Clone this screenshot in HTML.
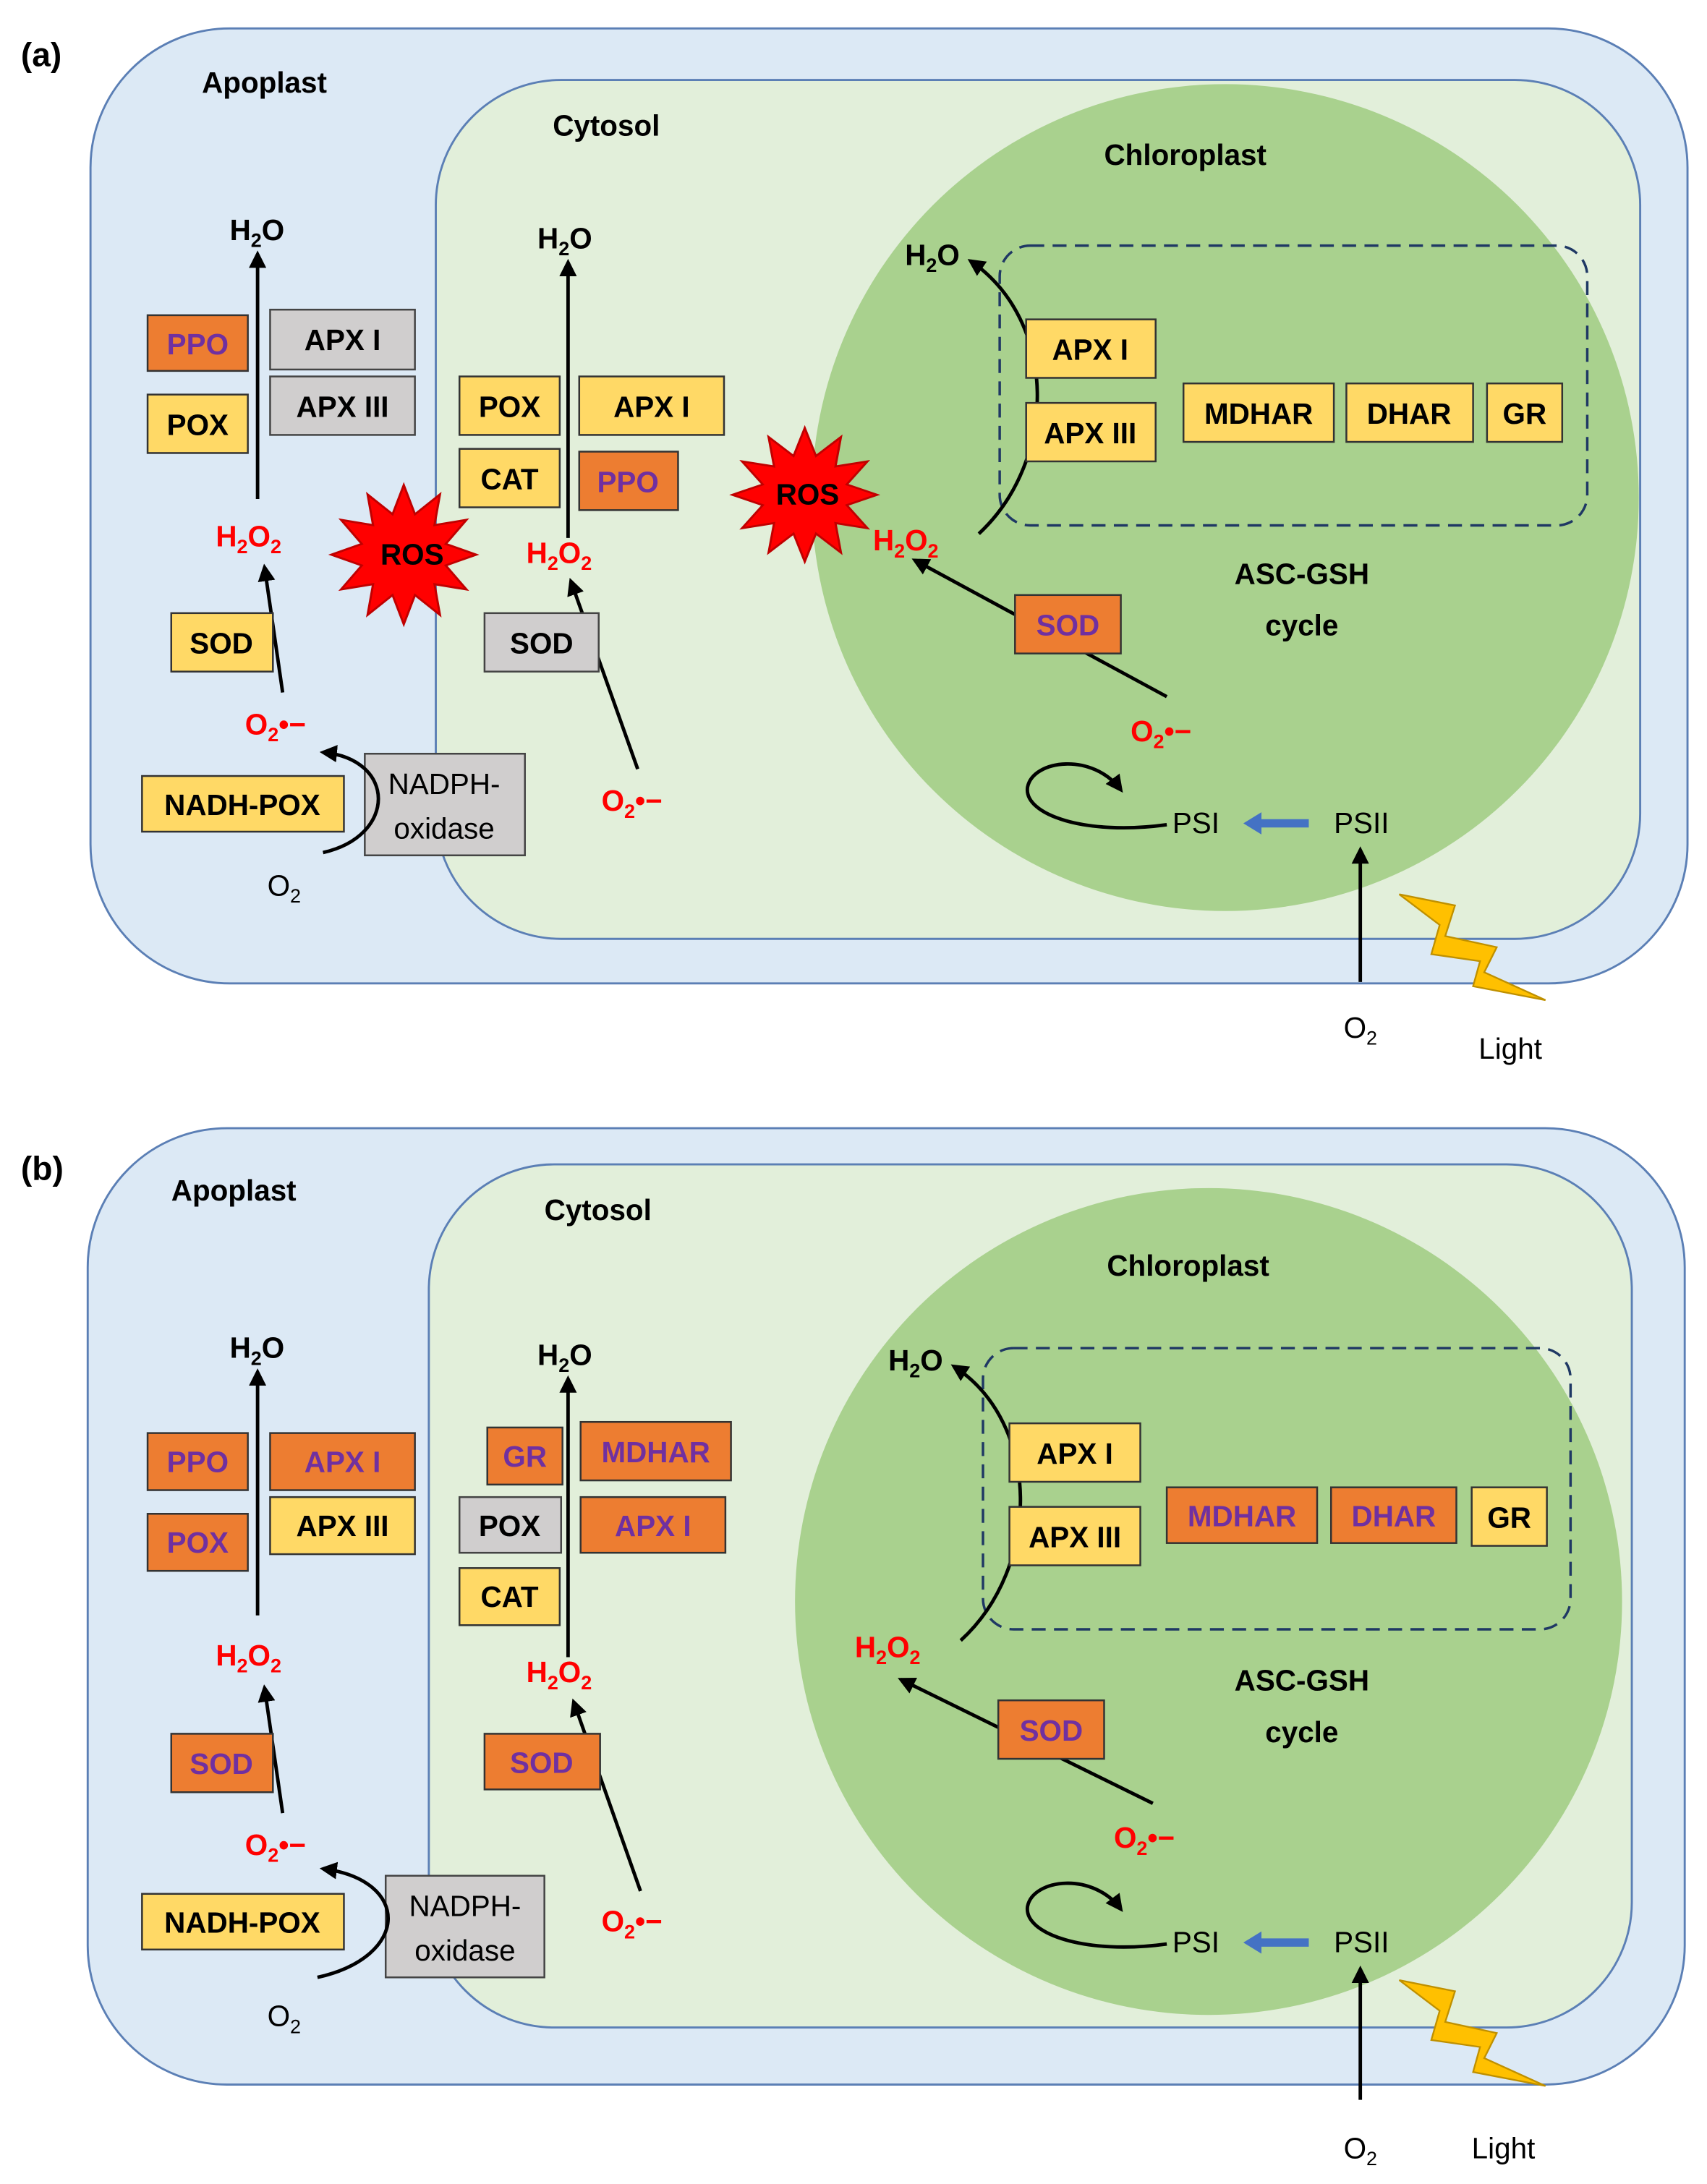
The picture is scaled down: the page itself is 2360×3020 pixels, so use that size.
<!DOCTYPE html>
<html><head><meta charset="utf-8"><style>
html,body{margin:0;padding:0;background:#fff}
svg{display:block}
text{font-family:"Liberation Sans",sans-serif}
.b{font-weight:bold;font-size:21px}
.e{font-weight:bold;font-size:21px;text-anchor:middle}
.r{fill:#ff0000;font-weight:bold;font-size:21px}
.n{font-size:21px}
.y{fill:#ffd966;stroke:#333;stroke-width:1.3}
.o{fill:#ed7d31;stroke:#333;stroke-width:1.3}
.g{fill:#d0cece;stroke:#444;stroke-width:1.3}
.pt{fill:#7030a0}
.ln{stroke:#000;stroke-width:2.5;fill:none}
</style></head><body>
<svg width="2360" height="3020" viewBox="0 0 1226 1568" xmlns="http://www.w3.org/2000/svg">
<defs>
<marker id="a" viewBox="0 0 10 10" refX="8" refY="5" markerWidth="5" markerHeight="5" orient="auto"><path d="M0,0L10,5L0,10z" fill="#000"/></marker>
<polygon id="star" points="1,0 .58,.155 .866,.5 .424,.424 .5,.866 .155,.58 0,1 -.155,.58 -.5,.866 -.424,.424 -.866,.5 -.58,.155 -1,0 -.58,-.155 -.866,-.5 -.424,-.424 -.5,-.866 -.155,-.58 0,-1 .155,-.58 .5,-.866 .424,-.424 .866,-.5 .58,-.155"/>
</defs>

<!-- ============ PANEL A ============ -->
<text x="15" y="47" font-weight="bold" font-size="24">(a)</text>
<rect x="65" y="20" width="1147" height="686" rx="100" fill="#dce9f5" stroke="#5b7fb5" stroke-width="1.5"/>
<rect x="313" y="57" width="865" height="617" rx="90" fill="#e2efda" stroke="#5b7fb5" stroke-width="1.5"/>
<circle cx="880" cy="357" r="297" fill="#a9d18e"/>
<rect x="718" y="176" width="422" height="201" rx="22" fill="none" stroke="#1f3864" stroke-width="1.8" stroke-dasharray="10,6"/>
<text x="145" y="66" class="b">Apoplast</text>
<text x="397" y="97" class="b">Cytosol</text>
<text x="793" y="118" class="b">Chloroplast</text>

<!-- apoplast -->
<text x="165" y="172" class="b">H<tspan font-size="14" dy="5">2</tspan><tspan dy="-5">O</tspan></text>
<line x1="185" y1="358" x2="185" y2="182" class="ln" marker-end="url(#a)"/>
<rect x="106" y="226" width="72" height="40" class="o"/><text x="142" y="254" class="e pt">PPO</text>
<rect x="194" y="222" width="104" height="43" class="g"/><text x="246" y="251" class="e">APX I</text>
<rect x="106" y="283" width="72" height="42" class="y"/><text x="142" y="312" class="e">POX</text>
<rect x="194" y="270" width="104" height="42" class="g"/><text x="246" y="299" class="e">APX III</text>
<text x="155" y="392" class="r">H<tspan font-size="14" dy="5">2</tspan><tspan dy="-5">O</tspan><tspan font-size="14" dy="5">2</tspan></text>
<line x1="203" y1="497" x2="190" y2="407" class="ln" marker-end="url(#a)"/>
<rect x="123" y="440" width="73" height="42" class="y"/><text x="159" y="469" class="e">SOD</text>
<text x="176" y="527" class="r">O<tspan font-size="14" dy="5">2</tspan><tspan dy="-5">•−</tspan></text>
<rect x="102" y="557" width="145" height="40" class="y"/><text x="174" y="585" class="e">NADH-POX</text>
<rect x="262" y="541" width="115" height="73" class="g"/>
<text x="319" y="570" class="n" text-anchor="middle">NADPH-</text><text x="319" y="602" class="n" text-anchor="middle">oxidase</text>
<path d="M232,612 C285,600 285,545 232,540" class="ln" marker-end="url(#a)"/>
<text x="192" y="643" class="n">O<tspan font-size="14" dy="5">2</tspan></text>
<use href="#star" transform="translate(290,398) scale(52,50)" fill="#ff0000" stroke="#c00000" stroke-width="0.03"/>
<text x="296" y="405" class="e">ROS</text>

<!-- cytosol -->
<text x="386" y="178" class="b">H<tspan font-size="14" dy="5">2</tspan><tspan dy="-5">O</tspan></text>
<line x1="408" y1="386" x2="408" y2="188" class="ln" marker-end="url(#a)"/>
<rect x="330" y="270" width="72" height="42" class="y"/><text x="366" y="299" class="e">POX</text>
<rect x="416" y="270" width="104" height="42" class="y"/><text x="468" y="299" class="e">APX I</text>
<rect x="330" y="322" width="72" height="42" class="y"/><text x="366" y="351" class="e">CAT</text>
<rect x="416" y="324" width="71" height="42" class="o"/><text x="451" y="353" class="e pt">PPO</text>
<text x="378" y="404" class="r">H<tspan font-size="14" dy="5">2</tspan><tspan dy="-5">O</tspan><tspan font-size="14" dy="5">2</tspan></text>
<line x1="458" y1="552" x2="410" y2="417" class="ln" marker-end="url(#a)"/>
<rect x="348" y="440" width="82" height="42" class="g"/><text x="389" y="469" class="e">SOD</text>
<text x="432" y="582" class="r">O<tspan font-size="14" dy="5">2</tspan><tspan dy="-5">•−</tspan></text>
<use href="#star" transform="translate(578,355) scale(52,48)" fill="#ff0000" stroke="#c00000" stroke-width="0.03"/>
<text x="580" y="362" class="e">ROS</text>

<!-- chloroplast -->
<text x="650" y="190" class="b">H<tspan font-size="14" dy="5">2</tspan><tspan dy="-5">O</tspan></text>
<path d="M703,383 C760,330 760,230 697,187" class="ln" marker-end="url(#a)"/>
<rect x="737" y="229" width="93" height="42" class="y"/><text x="783" y="258" class="e">APX I</text>
<rect x="737" y="289" width="93" height="42" class="y"/><text x="783" y="318" class="e">APX III</text>
<rect x="850" y="275" width="108" height="42" class="y"/><text x="904" y="304" class="e">MDHAR</text>
<rect x="967" y="275" width="91" height="42" class="y"/><text x="1012" y="304" class="e">DHAR</text>
<rect x="1068" y="275" width="54" height="42" class="y"/><text x="1095" y="304" class="e">GR</text>
<text x="627" y="395" class="r">H<tspan font-size="14" dy="5">2</tspan><tspan dy="-5">O</tspan><tspan font-size="14" dy="5">2</tspan></text>
<text x="935" y="419" class="e" font-size="28">ASC-GSH</text>
<text x="935" y="456" class="e" font-size="28">cycle</text>
<line x1="838" y1="500" x2="657" y2="402" class="ln" marker-end="url(#a)"/>
<rect x="729" y="427" width="76" height="42" class="o"/><text x="767" y="456" class="e pt">SOD</text>
<text x="812" y="532" class="r">O<tspan font-size="14" dy="5">2</tspan><tspan dy="-5">•−</tspan></text>
<path d="M838,592 C780,600 735,585 738,565 C742,545 785,540 805,567" class="ln" marker-end="url(#a)"/>
<text x="842" y="598" class="n">PSI</text>
<line x1="940" y1="591" x2="902" y2="591" stroke="#4472c4" stroke-width="6"/>
<polygon points="893,591 906,583 906,599" fill="#4472c4"/>
<text x="958" y="598" class="n">PSII</text>
<line x1="977" y1="705" x2="977" y2="610" class="ln" marker-end="url(#a)"/>
<text x="965" y="745" class="n">O<tspan font-size="14" dy="5">2</tspan></text>
<polygon points="1005,642 1045,650 1038,672 1075,680 1066,698 1110,718 1058,708 1063,690 1028,685 1034,664" fill="#ffc000" stroke="#bf9000" stroke-width="1.2"/>
<text x="1062" y="760" class="n">Light</text>

<!-- ============ PANEL B ============ -->
<text x="15" y="847" font-weight="bold" font-size="24">(b)</text>
<rect x="63" y="810" width="1147" height="687" rx="100" fill="#dce9f5" stroke="#5b7fb5" stroke-width="1.5"/>
<rect x="308" y="836" width="864" height="620" rx="90" fill="#e2efda" stroke="#5b7fb5" stroke-width="1.5"/>
<circle cx="868" cy="1150" r="297" fill="#a9d18e"/>
<rect x="706" y="968" width="422" height="202" rx="22" fill="none" stroke="#1f3864" stroke-width="1.8" stroke-dasharray="10,6"/>
<text x="123" y="862" class="b">Apoplast</text>
<text x="391" y="876" class="b">Cytosol</text>
<text x="795" y="916" class="b">Chloroplast</text>

<!-- apoplast -->
<text x="165" y="975" class="b">H<tspan font-size="14" dy="5">2</tspan><tspan dy="-5">O</tspan></text>
<line x1="185" y1="1160" x2="185" y2="985" class="ln" marker-end="url(#a)"/>
<rect x="106" y="1029" width="72" height="41" class="o"/><text x="142" y="1057" class="e pt">PPO</text>
<rect x="194" y="1029" width="104" height="41" class="o"/><text x="246" y="1057" class="e pt">APX I</text>
<rect x="106" y="1087" width="72" height="41" class="o"/><text x="142" y="1115" class="e pt">POX</text>
<rect x="194" y="1075" width="104" height="41" class="y"/><text x="246" y="1103" class="e">APX III</text>
<text x="155" y="1196" class="r">H<tspan font-size="14" dy="5">2</tspan><tspan dy="-5">O</tspan><tspan font-size="14" dy="5">2</tspan></text>
<line x1="203" y1="1302" x2="190" y2="1212" class="ln" marker-end="url(#a)"/>
<rect x="123" y="1245" width="73" height="42" class="o"/><text x="159" y="1274" class="e pt">SOD</text>
<text x="176" y="1332" class="r">O<tspan font-size="14" dy="5">2</tspan><tspan dy="-5">•−</tspan></text>
<rect x="102" y="1360" width="145" height="40" class="y"/><text x="174" y="1388" class="e">NADH-POX</text>
<rect x="277" y="1347" width="114" height="73" class="g"/>
<text x="334" y="1376" class="n" text-anchor="middle">NADPH-</text><text x="334" y="1408" class="n" text-anchor="middle">oxidase</text>
<path d="M228,1420 C295,1405 295,1350 232,1342" class="ln" marker-end="url(#a)"/>
<text x="192" y="1455" class="n">O<tspan font-size="14" dy="5">2</tspan></text>

<!-- cytosol -->
<text x="386" y="980" class="b">H<tspan font-size="14" dy="5">2</tspan><tspan dy="-5">O</tspan></text>
<line x1="408" y1="1190" x2="408" y2="990" class="ln" marker-end="url(#a)"/>
<rect x="350" y="1025" width="54" height="41" class="o"/><text x="377" y="1053" class="e pt">GR</text>
<rect x="417" y="1021" width="108" height="42" class="o"/><text x="471" y="1050" class="e pt">MDHAR</text>
<rect x="330" y="1075" width="73" height="40" class="g"/><text x="366" y="1103" class="e">POX</text>
<rect x="417" y="1075" width="104" height="40" class="o"/><text x="469" y="1103" class="e pt">APX I</text>
<rect x="330" y="1126" width="72" height="41" class="y"/><text x="366" y="1154" class="e">CAT</text>
<text x="378" y="1208" class="r">H<tspan font-size="14" dy="5">2</tspan><tspan dy="-5">O</tspan><tspan font-size="14" dy="5">2</tspan></text>
<line x1="460" y1="1358" x2="412" y2="1222" class="ln" marker-end="url(#a)"/>
<rect x="348" y="1245" width="83" height="40" class="o"/><text x="389" y="1273" class="e pt">SOD</text>
<text x="432" y="1387" class="r">O<tspan font-size="14" dy="5">2</tspan><tspan dy="-5">•−</tspan></text>

<!-- chloroplast -->
<text x="638" y="984" class="b">H<tspan font-size="14" dy="5">2</tspan><tspan dy="-5">O</tspan></text>
<path d="M690,1178 C748,1125 748,1022 685,981" class="ln" marker-end="url(#a)"/>
<rect x="725" y="1022" width="94" height="42" class="y"/><text x="772" y="1051" class="e">APX I</text>
<rect x="725" y="1082" width="94" height="42" class="y"/><text x="772" y="1111" class="e">APX III</text>
<rect x="838" y="1068" width="108" height="40" class="o"/><text x="892" y="1096" class="e pt">MDHAR</text>
<rect x="956" y="1068" width="90" height="40" class="o"/><text x="1001" y="1096" class="e pt">DHAR</text>
<rect x="1057" y="1068" width="54" height="42" class="y"/><text x="1084" y="1097" class="e">GR</text>
<text x="614" y="1190" class="r">H<tspan font-size="14" dy="5">2</tspan><tspan dy="-5">O</tspan><tspan font-size="14" dy="5">2</tspan></text>
<text x="935" y="1214" class="e" font-size="28">ASC-GSH</text>
<text x="935" y="1251" class="e" font-size="28">cycle</text>
<line x1="828" y1="1295" x2="647" y2="1206" class="ln" marker-end="url(#a)"/>
<rect x="717" y="1221" width="76" height="42" class="o"/><text x="755" y="1250" class="e pt">SOD</text>
<text x="800" y="1327" class="r">O<tspan font-size="14" dy="5">2</tspan><tspan dy="-5">•−</tspan></text>
<path d="M838,1396 C780,1404 735,1389 738,1369 C742,1349 785,1344 805,1371" class="ln" marker-end="url(#a)"/>
<text x="842" y="1402" class="n">PSI</text>
<line x1="940" y1="1395" x2="902" y2="1395" stroke="#4472c4" stroke-width="6"/>
<polygon points="893,1395 906,1387 906,1403" fill="#4472c4"/>
<text x="958" y="1402" class="n">PSII</text>
<line x1="977" y1="1508" x2="977" y2="1414" class="ln" marker-end="url(#a)"/>
<text x="965" y="1550" class="n">O<tspan font-size="14" dy="5">2</tspan></text>
<polygon points="1005,1422 1045,1430 1038,1452 1075,1460 1066,1478 1110,1498 1058,1488 1063,1470 1028,1465 1034,1444" fill="#ffc000" stroke="#bf9000" stroke-width="1.2"/>
<text x="1057" y="1550" class="n">Light</text>
</svg>
</body></html>
